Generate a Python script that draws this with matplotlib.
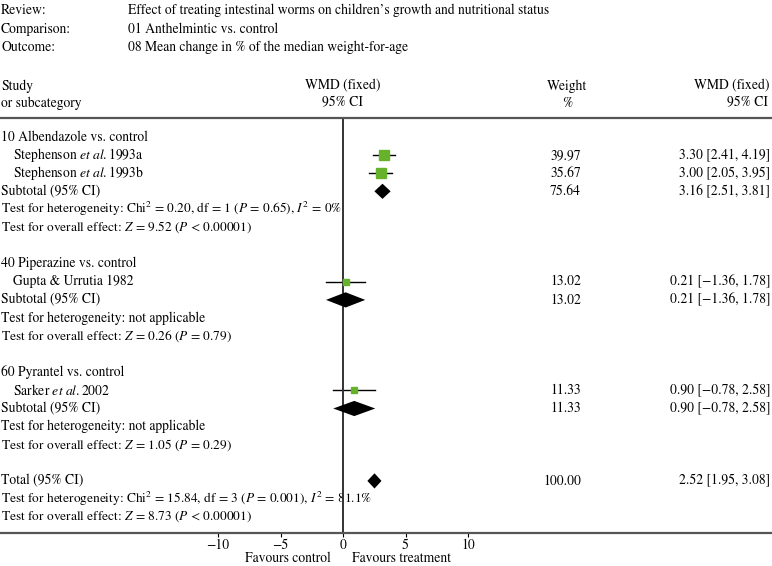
import numpy as np
import matplotlib
matplotlib.use("Agg")
import matplotlib.pyplot as plt
from matplotlib.transforms import blended_transform_factory

plt.rcParams['font.family'] = ['STIXGeneral', 'DejaVu Serif']
plt.rcParams['mathtext.fontset'] = 'stix'
plt.rcParams['font.size'] = 9.8

# header info
review = "Effect of treating intestinal worms on children\u2019s growth and nutritional status"
comparison = "01 Anthelmintic vs. control"
outcome = "08 Mean change in % of the median weight-for-age"

# studies
studies = ["Stephenson $\\mathit{et\\ al.}$1993a", "Stephenson $\\mathit{et\\ al.}$1993b",
           "Gupta & Urrutia 1982", "Sarker $\\mathit{et\\ al.}$2002"]
study_est = [3.30, 3.00, 0.21, 0.90]
study_lo = [2.41, 2.05, -1.36, -0.78]
study_hi = [4.19, 3.95, 1.78, 2.58]
study_wt = [39.97, 35.67, 13.02, 11.33]

# subgroups
groups = ["10 Albendazole vs. control", "40 Piperazine vs. control", "60 Pyrantel vs. control"]
group_members = [[0, 1], [2], [3]]
sub_est = [3.16, 0.21, 0.90]
sub_lo = [2.51, -1.36, -0.78]
sub_hi = [3.81, 1.78, 2.58]
sub_wt = [75.64, 13.02, 11.33]
sub_het = ["Test for heterogeneity: Chi$^2$ = 0.20, df = 1 ($P$ = 0.65), $I^2$ = 0%",
           "Test for heterogeneity: not applicable",
           "Test for heterogeneity: not applicable"]
sub_eff = ["Test for overall effect: $Z$ = 9.52 ($P$ < 0.00001)",
           "Test for overall effect: $Z$ = 0.26 ($P$ = 0.79)",
           "Test for overall effect: $Z$ = 1.05 ($P$ = 0.29)"]

# total
tot_est, tot_lo, tot_hi, tot_wt = 2.52, 1.95, 3.08, 100.00
tot_het = "Test for heterogeneity: Chi$^2$ = 15.84, df = 3 ($P$ = 0.001), $I^2$ = 81.1%"
tot_eff = "Test for overall effect: $Z$ = 8.73 ($P$ < 0.00001)"

xticks = [-10, -5, 0, 5, 10]

W, H = 772, 566
fig = plt.figure(figsize=(W / 100, H / 100), dpi=100)
ax = fig.add_axes([0, 1 - 533 / H, 1, (533 - 118) / H])

px_per_unit = 12.5
x0 = 343
ax.set_xlim(-x0 / px_per_unit, (W - x0) / px_per_unit)
row_h = 18.1
ax.set_ylim((533 - 137) / row_h, (118 - 137) / row_h)

tx = blended_transform_factory(fig.transFigure, ax.transData)
green = '#66b22a'


def diamond(est, lo, hi, r, h=0.42):
    ax.fill([lo, est, hi, est], [r, r - h, r, r + h], color='black', lw=0, zorder=3)


def right_cols(r, wt, est, lo, hi):
    ax.text(581 / W, r, f"{wt:.2f}", transform=tx, ha='right', va='center')
    txt = f"{est:.2f} [{lo:.2f}, {hi:.2f}]".replace('-', '\u2212')
    ax.text(770 / W, r, txt, transform=tx, ha='right', va='center')


def test_line(r, s, **kw):
    # lines with italic math run a bit wide, shrink them slightly
    fs = 9.6 if '$' in s else 9.8
    ax.text(1 / W, r, s, transform=tx, ha='left', va='center', fontsize=fs, **kw)


r = 0
for g, name in enumerate(groups):
    ax.text(1 / W, r, name, transform=tx, ha='left', va='center')
    r += 1
    for i in group_members[g]:
        ax.text(13 / W, r, studies[i], transform=tx, ha='left', va='center')
        ax.plot([study_lo[i], study_hi[i]], [r, r], color='black', lw=1, zorder=2)
        ax.plot(study_est[i], r, marker='s', color=green, ms=1.25 * np.sqrt(study_wt[i]),
                mec=green, zorder=3)
        right_cols(r, study_wt[i], study_est[i], study_lo[i], study_hi[i])
        r += 1
    ax.text(1 / W, r, "Subtotal (95% CI)", transform=tx, ha='left', va='center')
    diamond(sub_est[g], sub_lo[g], sub_hi[g], r)
    right_cols(r, sub_wt[g], sub_est[g], sub_lo[g], sub_hi[g])
    r += 1
    test_line(r, sub_het[g])
    r += 1
    test_line(r, sub_eff[g])
    r += 2

ax.text(1 / W, r, "Total (95% CI)", transform=tx, ha='left', va='center')
diamond(tot_est, tot_lo, tot_hi, r)
right_cols(r, tot_wt, tot_est, tot_lo, tot_hi)
test_line(r + 1, tot_het, zorder=1)
test_line(r + 2, tot_eff)

ax.axvline(0, color='#333333', lw=1.4, zorder=2)

for s in ['left', 'right']:
    ax.spines[s].set_visible(False)
for s in ['top', 'bottom']:
    ax.spines[s].set_color('#555555')
    ax.spines[s].set_linewidth(1.6)
ax.set_yticks([])
ax.set_xticks(xticks)
ax.tick_params(axis='x', direction='out', length=3, width=0.8, pad=1, labelsize=9.8)

# header block
def fy(p):
    return 1 - p / H

fig.text(1 / W, fy(10), "Review:", va='center')
fig.text(1 / W, fy(29), "Comparison:", va='center')
fig.text(1 / W, fy(47), "Outcome:", va='center')
fig.text(128 / W, fy(10), review, va='center')
fig.text(128 / W, fy(29), comparison, va='center')
fig.text(128 / W, fy(47), outcome, va='center')

fig.text(1 / W, fy(86), "Study", va='center')
fig.text(1 / W, fy(103), "or subcategory", va='center')
fig.text(343 / W, fy(86), "WMD (fixed)", va='center', ha='center')
fig.text(343 / W, fy(103), "95% CI", va='center', ha='center')
fig.text(567 / W, fy(86), "Weight", va='center', ha='center')
fig.text(567 / W, fy(103), "%", va='center', ha='center')
fig.text(770 / W, fy(86), "WMD (fixed)", va='center', ha='right')
fig.text(768 / W, fy(103), "95% CI", va='center', ha='right')

ftr = blended_transform_factory(ax.transData, fig.transFigure)
ax.text(-1.0, fy(558), "Favours control", transform=ftr, ha='right', va='center')
ax.text(0.7, fy(558), "Favours treatment", transform=ftr, ha='left', va='center')

fig.savefig("out.png", dpi=100)
